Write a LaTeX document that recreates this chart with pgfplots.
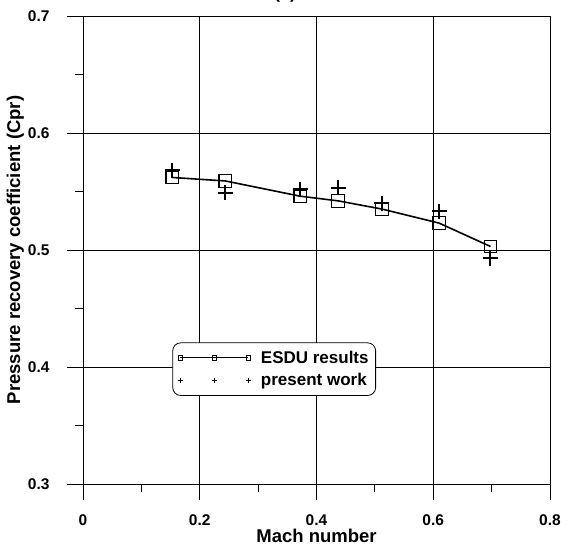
\documentclass[border=0pt]{standalone}
\usepackage{fontspec}
\setmainfont{Liberation Sans}
\usepackage{pgfplots}
\pgfplotsset{compat=1.18}
\begin{document}
\begin{tikzpicture}[x=1pt,y=1pt]
\begin{axis}[
  name=ax,
  at={(83pt,63pt)},anchor=south west,
  scale only axis,
  width=467pt,height=468pt,
  xmin=0,xmax=0.8,ymin=0.3,ymax=0.7,
  xtick={0,0.2,...,0.8},
  ytick={0.3,0.4,...,0.7},
  minor xtick={0.1,0.3,0.5,0.7},
  minor ytick={0.35,0.45,0.55,0.65},
  xticklabels={0,0.2,0.4,0.6,0.8},
  yticklabels={0.3,0.4,0.5,0.6,0.7},
  tick align=outside,
  xtick pos=bottom, ytick pos=left,
  major tick length=16pt,
  minor tick length=8pt,
  every tick/.style={black,line width=0.8pt},
  grid=major,
  major grid style={black,line width=0.8pt},
  axis line style={line width=0.9pt},
  /pgf/number format/assume math mode=true,
  tick label style={font=\bfseries\fontsize{15.5}{16}\selectfont},
  xticklabel style={yshift=-11pt},
  yticklabel style={xshift=-14pt},
  label style={font=\bfseries\fontsize{18.5}{20}\selectfont},
  xlabel={Mach number},
  ylabel={Pressure recovery coefficient (Cpr)},
  xlabel style={yshift=3pt},
  ylabel style={yshift=-3pt},
  legend style={at={(axis cs:0.153,0.421)},anchor=north west,
    draw=black,line width=0.8pt,rounded corners=8pt,
    font=\bfseries\fontsize{17}{18}\selectfont,
    inner xsep=5pt,inner ysep=6pt,row sep=5pt,column sep=8pt},
  legend cell align=left,
]
\addplot[black,line width=1.6pt,mark=square,mark size=6.3pt,mark options={line width=1.3pt,solid},
  legend image code/.code={\draw[black,line width=1.3pt] plot[mark=square,mark options={mark size=2.3pt,line width=1pt}] coordinates {(0pt,0pt) (34pt,0pt) (68pt,0pt)};}]
  coordinates {(0.153,0.562) (0.244,0.559) (0.372,0.546) (0.437,0.542) (0.512,0.535) (0.610,0.523) (0.698,0.503)};
\addlegendentry{ESDU results}
\addplot[black,only marks,mark=+,mark size=7.5pt,mark options={line width=2pt},
  legend image code/.code={\draw plot[only marks,mark=+,mark options={mark size=2.6pt,line width=1.1pt}] coordinates {(0pt,0pt) (34pt,0pt) (68pt,0pt)};}]
  coordinates {(0.153,0.568) (0.244,0.549) (0.372,0.552) (0.437,0.553) (0.512,0.540) (0.610,0.533) (0.698,0.493)};
\addlegendentry{present work}
\end{axis}
\node[font=\bfseries\fontsize{18}{20}\selectfont,anchor=base] at (285pt,548pt) {(a)};
\pgfresetboundingbox
\path[use as bounding box] (0pt,0pt) rectangle (567pt,547pt);
\end{tikzpicture}
\end{document}
